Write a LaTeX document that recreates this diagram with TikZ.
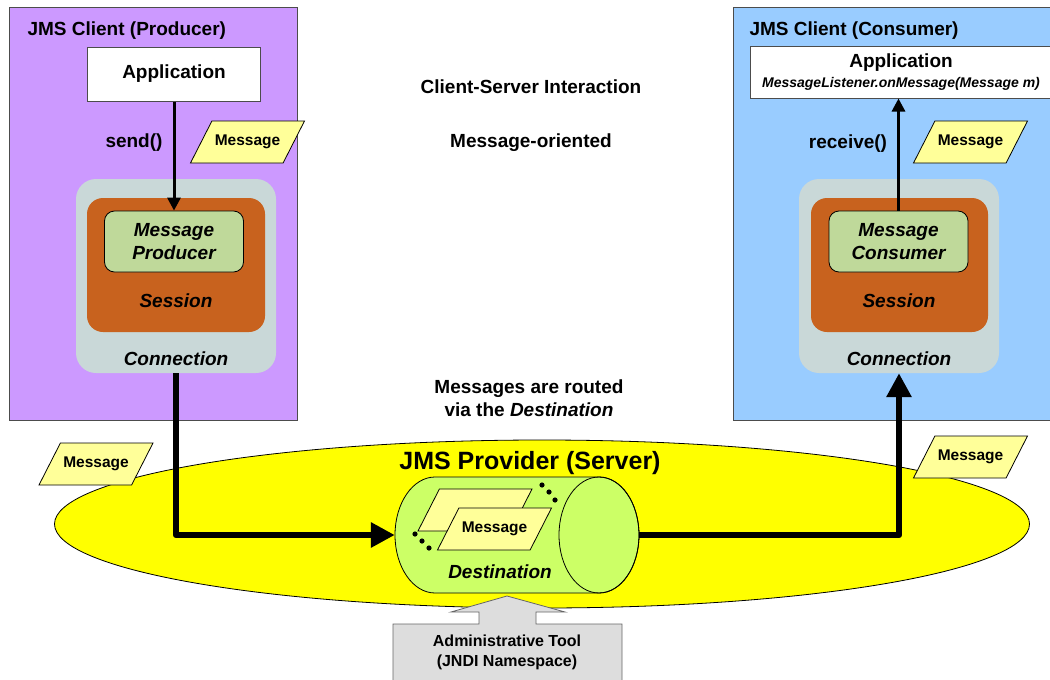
\documentclass[tikz,border=0pt]{standalone}
\usepackage{fontspec}
\setmainfont{Liberation Sans}
\usetikzlibrary{shapes.geometric,arrows.meta}

\definecolor{prodpurple}{HTML}{CC99FF}
\definecolor{consblue}{HTML}{99CCFF}
\definecolor{conngray}{HTML}{C9D8D8}
\definecolor{sessorange}{HTML}{C8621E}
\definecolor{mpgreen}{HTML}{BFD99A}
\definecolor{msgyellow}{HTML}{FFFF99}
\definecolor{provyellow}{HTML}{FFFF00}
\definecolor{cylgreen}{HTML}{CCFF66}
\definecolor{toolgray}{HTML}{DDDDDD}

\newcommand\lblfont{\fontsize{19}{23}\selectfont\bfseries}
\newcommand\msgfont{\fontsize{15.5}{18}\selectfont\bfseries}
\newcommand\provfont{\fontsize{25}{28}\selectfont\bfseries}
\newcommand\toolfont{\fontsize{16}{20}\selectfont\bfseries}
\newcommand\listfont{\fontsize{14}{16}\selectfont\bfseries\itshape}

\tikzset{
    panel/.style = {draw = black!70, line width = 1pt, inner sep = 0},
    appbox/.style = {draw = black!70, fill = white, line width = 1pt, font = \lblfont},
    connbox/.style = {fill = conngray, rounded corners = 20pt},
    sessbox/.style = {fill = sessorange, rounded corners = 16pt},
    mpbox/.style = {draw, fill = mpgreen, rounded corners = 10pt, line width = .8pt,
        align = center, font = \lblfont\itshape},
    msg/.style = {trapezium, trapezium left angle = 63, trapezium right angle = 117,
        trapezium stretches body, draw, line width = .8pt, fill = msgyellow,
        text height = 11pt, text depth = 4pt, inner xsep = 0, inner ysep = 13.5pt,
        minimum width = 114pt, font = \msgfont},
    flow/.style = {line width = 6.5pt, line join = round,
        -{Triangle[length = 24pt, width = 24pt]}},
    call/.style = {line width = 3pt, -{Triangle[length = 13pt, width = 13pt]}},
    txt/.style = {font = \lblfont, align = center}
}

\begin{document}
\begin{tikzpicture}[
        x = 1pt,
        y = -1pt
    ]
    \useasboundingbox (0,0) rectangle (1050,680);

    \begin{scope}
        \node[panel, fill = prodpurple, minimum width = 288pt, minimum height = 413pt] (prod) at (153,213.5) {};
        \node[txt, anchor = west] (prodtitle) at (24,31) {JMS Client (Producer)};
        \node[appbox, minimum width = 173pt, minimum height = 54pt] (papp) at (174,74) {Application};
        \node[connbox, minimum width = 200pt, minimum height = 194pt] (pconn) at (176,276) {};
        \node[sessbox, minimum width = 178pt, minimum height = 134pt] (psess) at (176,265) {};
        \node[mpbox, minimum width = 139pt, minimum height = 61pt] (mprod) at (174,241.5) {Message\\Producer};
        \node[txt, font = \lblfont\itshape] (psesslbl) at (176,301) {Session};
        \node[txt, font = \lblfont\itshape] (pconnlbl) at (176,359) {Connection};
        \node[txt] (send) at (134,143) {send()};
        \node[msg] (pmsg) at (247.5,142) {Message};
        \draw[call] (papp.south) -- (mprod.north);
    \end{scope}

    \begin{scope}
        \node[panel, fill = consblue, minimum width = 330pt, minimum height = 413pt] (cons) at (898,213.5) {};
        \node[txt, anchor = west] (constitle) at (746,31) {JMS Client (Consumer)};
        \node[appbox, minimum width = 302pt, minimum height = 52pt, align = center] (capp) at (901,72)
            {Application\\[-3pt]{\listfont MessageListener.onMessage(Message m)}};
        \node[connbox, minimum width = 200pt, minimum height = 194pt] (cconn) at (899,276) {};
        \node[sessbox, minimum width = 177pt, minimum height = 134pt] (csess) at (899.5,265) {};
        \node[mpbox, minimum width = 139pt, minimum height = 61pt] (mcons) at (898.5,241.5) {Message\\Consumer};
        \node[txt, font = \lblfont\itshape] (csesslbl) at (899,301) {Session};
        \node[txt, font = \lblfont\itshape] (cconnlbl) at (899,359) {Connection};
        \node[txt] (receive) at (848,144) {receive()};
        \node[msg] (cmsg) at (970.5,142) {Message};
        \draw[call] (mcons.north) -- (mcons.north |- capp.south);
    \end{scope}

    \node[txt] (cs) at (531,87) {Client-Server Interaction};
    \node[txt] (mo) at (531,143) {Message-oriented};
    \node[txt] (routed) at (529,398) {Messages are routed\\via the \textit{Destination}};

    \node[ellipse, draw, line width = .8pt, fill = provyellow, minimum width = 975pt, minimum height = 168pt] (prov) at (542,524) {};
    \node[font = \provfont] (provtitle) at (530,463) {JMS Provider (Server)};
    \node[msg] (lmsg) at (96,464) {Message};
    \node[msg] (rmsg) at (970.5,457) {Message};

    \node[minimum width = 244pt, minimum height = 116pt, inner sep = 0] (dest) at (517,535) {};
    \draw[fill = cylgreen, line width = .8pt] (599,477) -- (435,477)
        arc[start angle = -90, end angle = -270, x radius = 40, y radius = 58] -- (599,593)
        arc[start angle = 90, end angle = -90, x radius = 40, y radius = 58] -- cycle;
    \draw[line width = .8pt] (599,535) ellipse[x radius = 40, y radius = 58];
    \node[msg] (msgback) at (475,510) {};
    \node[msg] (msgfront) at (494.5,529) {Message};
    \foreach \p in {(542,485),(549,492),(555,500),(415,534),(422,541),(429,548)}
        \fill \p circle (2.6);
    \node[txt, font = \lblfont\itshape] (destlbl) at (500,572) {Destination};

    \draw[flow] (pconn.south) |- (dest.west);
    \draw[flow] (dest.east) -| (cconn.south);

    \draw[fill = toolgray, draw = black!60, line width = .8pt] (393,690) -- (393,624) -- (479,624) -- (479,612)
        -- (451,612) -- (507,596) -- (565,612) -- (536,612) -- (536,624) -- (622,624) -- (622,690);
    \node[font = \toolfont, align = center] (admin) at (507,652) {Administrative Tool\\(JNDI Namespace)};
\end{tikzpicture}
\end{document}
